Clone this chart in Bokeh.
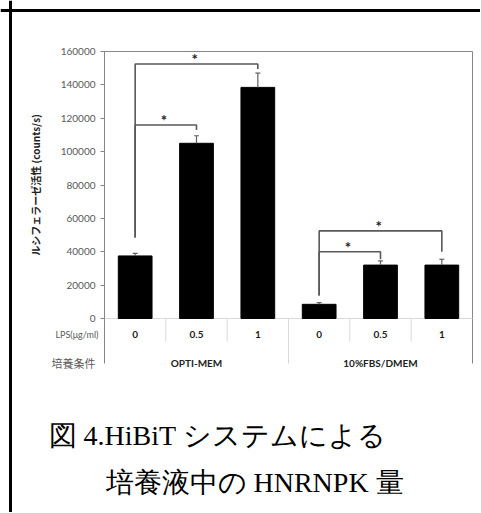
from bokeh.plotting import figure
from bokeh.models import Range1d, FixedTicker, Span, LinearAxis, BasicTickFormatter
from bokeh.embed import file_html
from bokeh.resources import INLINE
from bokeh.core.properties import value

# ---- data ----
lps_labels = ["0", "0.5", "1", "0", "0.5", "1"]
media_labels = ["OPTI-MEM", "10%FBS/DMEM"]
luciferase = [37500, 105000, 138500, 8500, 32000, 32000]
errors = [1500, 4500, 8500, 1000, 2500, 3500]
y_ticks = [0, 20000, 40000, 60000, 80000, 100000, 120000, 140000, 160000]
Y_MAX = 160000

# significance brackets (bar index from -> to, bracket level, drop end, base)
br_from = [0, 0, 3, 3]
br_to = [1, 2, 4, 5]
br_level = [116000, 152500, 40000, 52500]
br_drop = [113000, 149500, 35500, 40000]
br_base = [48500, 48500, 13800, 13800]

y_label = "ルシフェラーゼ活性 (counts/s)"
row1_header = "LPS(μg/ml)"
row2_header = "培養条件"
caption1 = "図 4.HiBiT システムによる"
caption2 = "培養液中の HNRNPK 量"

# ---- layout (pixel geometry of the page) ----
W, H = 480, 512
n = len(luciferase)
FR_L, FR_R, FR_T, FR_0 = 104, 472, 51, 318      # plot box left/right/top and zero line
PXX = (FR_R - FR_L) / n                          # px per category
UPY = Y_MAX / (FR_0 - FR_T)                      # data units per px

def dx(px):
    return (px - FR_L) / PXX

def dy(py):
    return (FR_0 - py) * UPY

xs = [i + 0.5 for i in range(n)]
Y_MIN = dy(363)
row1_y = dy(334)
row1_sep = dy(341)
row2_y = dy(362)

GRAY = "#868686"
LIGHT = "#d9d9d9"
TXT = "#595959"
FONT = "Lato"

p = figure(width=W, height=H, output_backend="svg", toolbar_location=None,
           x_range=Range1d(dx(0), dx(W)), y_range=Range1d(dy(H), dy(0)),
           x_axis_location=None, y_axis_location=None)
p.min_border = 0
p.min_border_left = 0
p.min_border_right = 0
p.min_border_top = 0
p.min_border_bottom = 0
p.outline_line_color = None
p.xgrid.visible = False
p.ygrid.visible = False

# outer black frame (top and left)
p.add_layout(Span(location=dx(10), dimension="height", line_color="black", line_width=3))
p.add_layout(Span(location=dy(10), dimension="width", line_color="black", line_width=3))

ax = LinearAxis(fixed_location=0, bounds=(0, Y_MAX))
ax.ticker = FixedTicker(ticks=y_ticks)
ax.formatter = BasicTickFormatter(use_scientific=False)
ax.axis_line_color = GRAY
ax.major_tick_line_color = GRAY
ax.minor_tick_line_color = None
ax.major_tick_in = 0
ax.major_tick_out = 4
ax.major_label_standoff = 5
ax.major_label_text_font = FONT
ax.major_label_text_font_size = "10px"
ax.major_label_text_color = TXT
ax.axis_label = y_label
ax.axis_label_text_font = "Noto Sans CJK JP"
ax.axis_label_text_font_style = "bold"
ax.axis_label_text_font_size = "10px"
ax.axis_label_text_color = "#222222"
ax.axis_label_standoff = 15
p.add_layout(ax, "left")

# plot box lines (top, right, left extension into table, zero line)
p.segment(x0=[0, n, 0, 0], y0=[Y_MAX, Y_MIN, Y_MIN, 0], x1=[n, n, 0, n], y1=[Y_MAX, Y_MAX, 0, 0],
          line_color=[GRAY, GRAY, GRAY, LIGHT], line_width=1)

# bars
p.vbar(x=xs, top=luciferase, width=0.55, color="black")

# error bars
tops = [v + e for v, e in zip(luciferase, errors)]
p.segment(x0=xs, y0=luciferase, x1=xs, y1=tops, line_color="#606060", line_width=1.2)
p.segment(x0=[x - 0.04 for x in xs], y0=tops, x1=[x + 0.04 for x in xs], y1=tops,
          line_color="#606060", line_width=1.2)

# significance brackets
bx, by = [], []
for a, b, lv, dr, bs in zip(br_from, br_to, br_level, br_drop, br_base):
    bx.append([xs[a], xs[a], xs[b], xs[b]])
    by.append([bs, lv, lv, dr])
p.multi_line(bx, by, line_color=TXT, line_width=1.6)
star_x = [(xs[a] + xs[b]) / 2 - 0.03 for a, b in zip(br_from, br_to)]
p.text(x=star_x, y=br_level, text=["*"] * len(star_x), text_align="center",
       text_baseline="bottom", text_font=value(FONT), text_font_style="bold",
       text_font_size="15px", text_color="#222222", y_offset=4)

# table separators
sep_x = [1, 2, 4, 5]
p.segment(x0=sep_x, y0=[0] * 4, x1=sep_x, y1=[row1_sep] * 4, line_color=LIGHT, line_width=1)
p.segment(x0=[n / 2], y0=[0], x1=[n / 2], y1=[Y_MIN], line_color=LIGHT, line_width=1)

# table labels
p.text(x=xs, y=[row1_y] * n, text=lps_labels, text_align="center", text_baseline="middle",
       text_font=value(FONT), text_font_style="bold", text_font_size="10px", text_color="#222222")
grp_x = [n / 4, 3 * n / 4]
p.text(x=grp_x, y=[row2_y] * 2, text=media_labels, text_align="center", text_baseline="middle",
       text_font=value(FONT), text_font_style="bold", text_font_size="10px", text_color="#222222")
p.text(x=[dx(98)], y=[row1_y], text=[row1_header], text_align="right", text_baseline="middle",
       text_font=value(FONT), text_font_size="9px", text_color=TXT)
p.text(x=[dx(95)], y=[row2_y], text=[row2_header], text_align="right", text_baseline="middle",
       text_font=value("Noto Sans CJK JP"), text_font_size="11px", text_color=TXT)

# caption
p.text(x=[dx(48), dx(105)], y=[dy(435), dy(482)], text=[caption1, caption2],
       text_align="left", text_baseline="middle", text_font=value("Liberation Serif"),
       text_font_size="28px", text_color="black")

open("out.html", "w").write(file_html(p, INLINE))
